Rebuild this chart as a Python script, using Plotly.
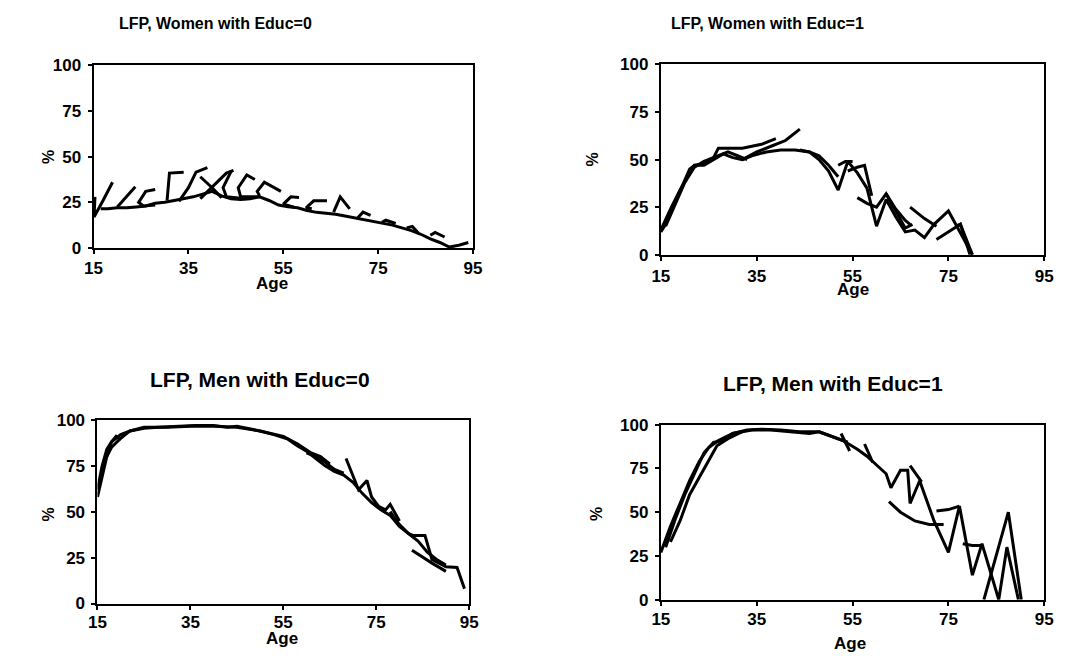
import plotly.graph_objects as go

W, H = 1070, 665

# ---------------- data (age, LFP %) ; None separates cohort segments ----------------
women0_age = [16.5,18,20,22,24,26,28,30,32,34,36,38,40,42,44,46,48,50,52,54,56,58,60,62,64,66,68,70,72,74,76,78,80,82,84,86,88,90,92,94, None,
              15.3,15.1,17,19, None,
              20,22,23.8, None,
              28,26,24.5,25.5,28, None,
              30.5,31,34, None,
              33,35,36.6,39, None,
              37.5,40,42, None,
              37.5,43,44.5, None,
              44,42.3,43,47, None,
              49,47.3,45.5,46,50, None,
              54.5,51,49.5,50, None,
              58.3,56.6,55,57.3, None,
              64.2,61.4,59.8,61, None,
              65.6,67,69, None,
              70.7,71.8,73.4, None,
              75.8,76.6,78.7, None,
              81,82.2,83.5, None,
              86,87,89]
women0_lfp = [21.5,21.5,22,22,22.5,23,24.5,25,26,27,28,29.5,31,28.5,27,26.5,27,28,26,23.5,22.5,22,20.5,19.5,19,18.5,17.5,16.5,15.5,14.5,13.5,12.5,11,9.5,7.5,5,3,0.5,1.5,3, None,
              28,17,26,36, None,
              22.5,28,33.5, None,
              32,31,25,23,23.5, None,
              26,41,41.5, None,
              25.5,33,41.5,44, None,
              39,33,27.5, None,
              27,41,42.5, None,
              42,33,28,27, None,
              37.5,40,33,28,28, None,
              31,36,31,28.5, None,
              27.6,28,24,22.3, None,
              25.8,25.8,22,21.5, None,
              19.6,28,21.4, None,
              16.5,19.6,17.8, None,
              14,15.2,13.4, None,
              11,11.8,8, None,
              7,8.5,6]

women1_age = [15,16,17,18,19,20,21,22,24,26,27,30,32,34,36,39, None,
              15,17,19,21,22,24,26,28,30,32,34,37,40,43,46,48,50,52,54,56,58,60,62,64,66,68,70,72,75,77,80, None,
              16,18,20,22,24,27,29,31,33, None,
              32,35,38,41,44, None,
              44,46,48,50,52, None,
              52,53.5,55, None,
              54,56,57.5,59, None,
              56,58,60,62,64,66,67.5, None,
              62,64,66,67, None,
              67,70,72.5, None,
              72.5,75,77.5,80, None,
              76.5,77.5,79.5]
women1_lfp = [12,16,22,28,34,40,45,47,48,51,56,56,56,57,58,61, None,
              13,24,34,43,47,47,50,53,51,50,52,54,55,55,54,50,44,34,49,43,35,15,29,20,12,13,9,16,23,14,0, None,
              15,27,38,46,49,52,54,52,50, None,
              50,54,57,60,66, None,
              55,54,52,47,41, None,
              47,49,49, None,
              44,46,47,31, None,
              30,27,25,32,23,14,16, None,
              32,24,18,16, None,
              25,19,15, None,
              8,12,16,0, None,
              15,16,0]

men0_age = [15,16,17,18,20,22,25,28,32,36,40,43,45,48,50,53,56,58,60,62,64,66,68,70,72,74,76,78,80,82,84,86,88,90, None,
            15,16,17,18,19,20,22,25,30,35,40,45,50,55,58,61,63,65, None,
            17,18,19,20, None,
            60,62,64,66,68, None,
            68.5,70,71.2,73,74,75.5,77,78,80, None,
            78,80,82,83,85.5,87,90,92.4,94, None,
            82.7,85,87,89,90]
men0_lfp = [58,70,80,85,90,94,95.5,96,96.5,97,97,96,96.5,95,94,92,89.5,86,83,79,75,72,70,66,60,55,51,48,42,38,34,28,24,21, None,
            62,75,84,88,90,92,94,96,96,96.5,96.5,96,94,91,87,82,80,76, None,
            80,88,91,89, None,
            82,80,77,73,71, None,
            79,70,62,67,58,53,51,54,45, None,
            50,43,38,37,37,24,20,19.6,8, None,
            29,25,22,19,17.5]

men1_age = [15,17,19,21,23,25,27,30,33,36,40,44,48,50,52,54, None,
            16,18,20,22,24,26,28,30,34,38,42,46,48, None,
            17,19,21,22.6,24,26.7,29,32, None,
            48,50,53,56,58,60,62,63,65,66.5,67,69,72,75,77.3,80,82,85.5,87.2,89.6, None,
            52.6,54.4, None,
            57.5,59.2, None,
            67,69.4, None,
            62.6,65,68,71,74, None,
            72.5,75,77.3, None,
            78,80,82, None,
            82.4,87.5,90.2]
men1_lfp = [27,42,55,68,79,87,91,95,97,97.5,97,96,96,94,92,90, None,
            30,46,60,72,84,90,91,95,97,97,96,95,96, None,
            33,45,60,68,75,88,92,96, None,
            96,94,91,86,82,77,72,64,74,74,55,68,45,27,53.5,14,32,0,30,0, None,
            95,85, None,
            89,78.5, None,
            76.7,67.4, None,
            56,50,45,43,43, None,
            50.7,51.5,53.5, None,
            32,31,31, None,
            0,50,0]

titles = ["LFP, Women with Educ=0", "LFP, Women with Educ=1",
          "LFP, Men with Educ=0", "LFP, Men with Educ=1"]
age_ticks = [15, 35, 55, 75, 95]
pct_ticks = [0, 25, 50, 75, 100]

# ---------------- layout geometry (pixels) ----------------
boxes = [(86, 472, 58, 246), (663, 1053, 57, 253), (90, 468, 423, 612), (663, 1053, 428, 608)]
xlab_standoff = [0, 1, -2, -1]
title_pos = [(210, 15, 16), (771, 15, 16), (255, 381, 21), (838, 385, 21)]
age_pos = [(268, 283), (858, 289), (278, 648), (855, 653)]
pct_pos = [(40, 152), (594, 155), (40, 520), (597, 520)]

FONT = "Liberation Sans, Arial, sans-serif"
fig = go.Figure()
series = [(women0_age, women0_lfp), (women1_age, women1_lfp), (men0_age, men0_lfp), (men1_age, men1_lfp)]
for i, (xa, ya) in enumerate(series):
    sfx = "" if i == 0 else str(i + 1)
    fig.add_trace(go.Scatter(x=xa, y=ya, mode="lines", connectgaps=False,
                             line=dict(color="black", width=3),
                             xaxis="x" + sfx, yaxis="y" + sfx, showlegend=False,
                             hoverinfo="skip"))

layout = dict(width=W, height=H, margin=dict(l=0, r=0, t=0, b=0),
              paper_bgcolor="white", plot_bgcolor="white", showlegend=False)
annotations = []
for i, (x0, x1, y0, y1) in enumerate(boxes):
    sfx = "" if i == 0 else str(i + 1)
    layout["xaxis" + sfx] = dict(domain=[x0 / W, x1 / W], range=[15, 95], anchor="y" + sfx,
                                 tickvals=age_ticks, ticks="outside", ticklen=4, tickwidth=1.5,
                                 tickcolor="black", showline=True, linecolor="black", linewidth=2,
                                 mirror=True, showgrid=False, zeroline=False,
                                 tickfont=dict(family=FONT, size=17, color="black", weight="bold"),
                                 ticklabelstandoff=xlab_standoff[i])
    layout["yaxis" + sfx] = dict(domain=[1 - y1 / H, 1 - y0 / H], range=[0, 100], anchor="x" + sfx,
                                 tickvals=pct_ticks, ticks="outside", ticklen=4, tickwidth=1.5,
                                 tickcolor="black", showline=True, linecolor="black", linewidth=2,
                                 mirror=True, showgrid=False, zeroline=False,
                                 tickfont=dict(family=FONT, size=17, color="black", weight="bold"),
                                 ticklabelstandoff=3)
    tx, ty, ts = title_pos[i]
    annotations.append(dict(text=titles[i], x=tx / W, y=1 - ty / H, xref="paper", yref="paper",
                            showarrow=False, xanchor="center", yanchor="middle",
                            font=dict(family=FONT, size=ts, color="black", weight="bold")))
    ax, ay = age_pos[i]
    annotations.append(dict(text="Age", x=ax / W, y=1 - ay / H, xref="paper", yref="paper",
                            showarrow=False, xanchor="center", yanchor="middle",
                            font=dict(family=FONT, size=17, color="black", weight="bold")))
    px, py = pct_pos[i]
    annotations.append(dict(text="%", x=px / W, y=1 - py / H, xref="paper", yref="paper",
                            showarrow=False, xanchor="center", yanchor="middle", textangle=-90,
                            font=dict(family=FONT, size=16, color="black", weight="bold")))
layout["annotations"] = annotations
fig.update_layout(**layout)
fig.write_html("out.html")
